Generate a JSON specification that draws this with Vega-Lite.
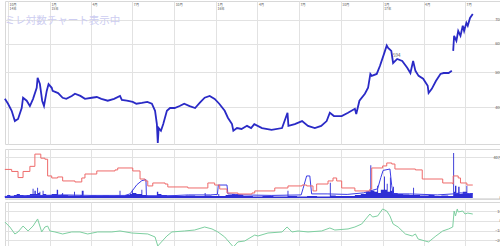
{
  "$schema": "https://vega.github.io/schema/vega-lite/v6.json",
  "padding": 0,
  "background": "white",
  "spacing": 0,
  "config": {
    "font": "Noto Sans CJK JP",
    "view": {"stroke": "#d8d8d8"},
    "axis": {"gridColor": "#e2e2e2", "gridWidth": 1, "domain": false, "ticks": false, "labelFontSize": 3.8, "labelColor": "#555555", "title": null}
  },
  "datasets": {
    "price": [
      {"date":"2014-09-24","price":422},{"date":"2014-10-01","price":409},{"date":"2014-10-09","price":391},{"date":"2014-10-16","price":366},
      {"date":"2014-10-23","price":371},{"date":"2014-10-31","price":398},{"date":"2014-11-03","price":425},{"date":"2014-11-11","price":417},
      {"date":"2014-11-18","price":403},{"date":"2014-11-25","price":422},{"date":"2014-12-03","price":453},{"date":"2014-12-05","price":483},
      {"date":"2014-12-10","price":464},{"date":"2014-12-15","price":417},{"date":"2014-12-19","price":403},{"date":"2014-12-25","price":444},
      {"date":"2014-12-29","price":464},{"date":"2015-01-05","price":453},{"date":"2015-01-07","price":444},{"date":"2015-01-19","price":438},
      {"date":"2015-01-29","price":425},{"date":"2015-02-06","price":422},{"date":"2015-02-18","price":430},{"date":"2015-02-25","price":436},
      {"date":"2015-03-09","price":430},{"date":"2015-03-19","price":422},{"date":"2015-04-03","price":425},{"date":"2015-04-14","price":427},
      {"date":"2015-04-24","price":422},{"date":"2015-05-08","price":417},{"date":"2015-05-22","price":422},{"date":"2015-06-04","price":430},
      {"date":"2015-06-08","price":419},{"date":"2015-06-19","price":417},{"date":"2015-07-02","price":414},{"date":"2015-07-10","price":409},
      {"date":"2015-07-22","price":411},{"date":"2015-08-03","price":414},{"date":"2015-08-13","price":409},{"date":"2015-08-20","price":391},
      {"date":"2015-08-24","price":359},{"date":"2015-08-26","price":318},{"date":"2015-08-28","price":350},{"date":"2015-09-02","price":344},
      {"date":"2015-09-07","price":359},{"date":"2015-09-15","price":391},{"date":"2015-09-22","price":398},{"date":"2015-10-02","price":398},
      {"date":"2015-10-13","price":403},{"date":"2015-10-23","price":409},{"date":"2015-11-04","price":403},{"date":"2015-11-16","price":398},
      {"date":"2015-11-26","price":411},{"date":"2015-12-07","price":425},{"date":"2015-12-18","price":430},{"date":"2015-12-29","price":422},
      {"date":"2016-01-08","price":409},{"date":"2016-01-20","price":391},{"date":"2016-01-27","price":374},{"date":"2016-02-05","price":359},
      {"date":"2016-02-08","price":344},{"date":"2016-02-16","price":350},{"date":"2016-02-26","price":348},{"date":"2016-03-09","price":355},
      {"date":"2016-03-18","price":350},{"date":"2016-03-25","price":359},{"date":"2016-04-11","price":350},{"date":"2016-05-02","price":346},
      {"date":"2016-05-25","price":350},{"date":"2016-06-06","price":386},{"date":"2016-06-08","price":355},{"date":"2016-06-22","price":359},
      {"date":"2016-07-08","price":366},{"date":"2016-07-21","price":355},{"date":"2016-08-05","price":350},{"date":"2016-08-19","price":355},
      {"date":"2016-08-31","price":366},{"date":"2016-09-07","price":386},{"date":"2016-09-16","price":378},{"date":"2016-10-03","price":378},
      {"date":"2016-10-17","price":386},{"date":"2016-11-01","price":396},{"date":"2016-11-04","price":383},{"date":"2016-11-11","price":417},
      {"date":"2016-11-23","price":436},{"date":"2016-11-30","price":453},{"date":"2016-12-05","price":495},{"date":"2016-12-08","price":489},
      {"date":"2016-12-19","price":495},{"date":"2016-12-26","price":521},{"date":"2017-01-04","price":563},{"date":"2017-01-10","price":594},
      {"date":"2017-01-13","price":585},{"date":"2017-01-20","price":574},{"date":"2017-01-24","price":531},{"date":"2017-02-02","price":545},
      {"date":"2017-02-13","price":538},{"date":"2017-02-24","price":515},{"date":"2017-03-03","price":498},{"date":"2017-03-09","price":538},
      {"date":"2017-03-14","price":505},{"date":"2017-03-21","price":489},{"date":"2017-03-31","price":480},{"date":"2017-04-10","price":459},
      {"date":"2017-04-12","price":438},{"date":"2017-04-19","price":450},{"date":"2017-04-28","price":473},{"date":"2017-05-08","price":495},
      {"date":"2017-05-15","price":498},{"date":"2017-05-26","price":498},{"date":"2017-06-02","price":505},{"date":"2017-06-03","price":null},
      {"date":"2017-06-05","price":574},{"date":"2017-06-07","price":632},{"date":"2017-06-12","price":612},{"date":"2017-06-16","price":652},
      {"date":"2017-06-21","price":632},{"date":"2017-06-26","price":674},{"date":"2017-06-29","price":652},{"date":"2017-07-04","price":687},
      {"date":"2017-07-07","price":674},{"date":"2017-07-12","price":709},{"date":"2017-07-18","price":727}
    ],
    "watermark": [{"date":"2014-09-24","price":697,"label":"ミレ対数チャート表示中"}],
    "peak": [{"date":"2017-01-24","price":554,"label":"594"}],
    "volume": [
      {"date":"2014-09-24","vol":2},{"date":"2014-09-29","vol":3},{"date":"2014-10-06","vol":2},{"date":"2014-10-14","vol":3},
      {"date":"2014-10-20","vol":4},{"date":"2014-10-27","vol":3},{"date":"2014-11-04","vol":2.5},{"date":"2014-11-11","vol":3},
      {"date":"2014-11-18","vol":4},{"date":"2014-11-24","vol":9},{"date":"2014-11-26","vol":4},{"date":"2014-11-28","vol":7},
      {"date":"2014-12-01","vol":4},{"date":"2014-12-04","vol":10},{"date":"2014-12-06","vol":5},{"date":"2014-12-09","vol":6},
      {"date":"2014-12-11","vol":3},{"date":"2014-12-16","vol":7},{"date":"2014-12-18","vol":4},{"date":"2014-12-24","vol":3},
      {"date":"2015-01-05","vol":4},{"date":"2015-01-16","vol":8},{"date":"2015-01-19","vol":3},{"date":"2015-01-26","vol":3.5},
      {"date":"2015-01-28","vol":5},{"date":"2015-01-30","vol":3},{"date":"2015-02-10","vol":2.5},{"date":"2015-02-23","vol":6},
      {"date":"2015-02-25","vol":2.5},{"date":"2015-03-09","vol":3},{"date":"2015-03-12","vol":7},{"date":"2015-03-16","vol":2},
      {"date":"2015-03-30","vol":2.5},{"date":"2015-04-13","vol":2},{"date":"2015-04-27","vol":2.5},{"date":"2015-05-11","vol":2},
      {"date":"2015-05-25","vol":2.5},{"date":"2015-06-03","vol":7},{"date":"2015-06-05","vol":2},{"date":"2015-06-15","vol":3},
      {"date":"2015-06-26","vol":4},{"date":"2015-06-30","vol":8},{"date":"2015-07-02","vol":5},{"date":"2015-07-10","vol":4},
      {"date":"2015-07-21","vol":8},{"date":"2015-07-23","vol":3},{"date":"2015-08-03","vol":2.5},{"date":"2015-08-24","vol":6},
      {"date":"2015-08-27","vol":4},{"date":"2015-09-03","vol":3},{"date":"2015-09-15","vol":2.5},{"date":"2015-10-05","vol":2},
      {"date":"2015-10-26","vol":2.5},{"date":"2015-11-16","vol":2},{"date":"2015-12-07","vol":5},{"date":"2015-12-09","vol":2.5},
      {"date":"2015-12-22","vol":2},{"date":"2016-01-06","vol":4},{"date":"2016-01-08","vol":2},{"date":"2016-01-22","vol":3},
      {"date":"2016-02-05","vol":4},{"date":"2016-02-12","vol":3},{"date":"2016-03-01","vol":2},{"date":"2016-03-22","vol":1.5},
      {"date":"2016-04-12","vol":2},{"date":"2016-05-06","vol":1.5},{"date":"2016-06-06","vol":7},{"date":"2016-06-08","vol":2},
      {"date":"2016-06-27","vol":1.5},{"date":"2016-07-19","vol":2},{"date":"2016-08-10","vol":1.5},{"date":"2016-09-07","vol":15},
      {"date":"2016-09-09","vol":2.5},{"date":"2016-09-20","vol":2},{"date":"2016-10-12","vol":2},{"date":"2016-11-01","vol":3},
      {"date":"2016-11-14","vol":4},{"date":"2016-11-25","vol":6},{"date":"2016-12-05","vol":32},{"date":"2016-12-07","vol":7},
      {"date":"2016-12-14","vol":6},{"date":"2016-12-20","vol":12},{"date":"2016-12-22","vol":5},{"date":"2016-12-28","vol":8},
      {"date":"2017-01-04","vol":21},{"date":"2017-01-06","vol":8},{"date":"2017-01-10","vol":14},{"date":"2017-01-12","vol":6},
      {"date":"2017-01-17","vol":20},{"date":"2017-01-19","vol":7},{"date":"2017-01-24","vol":11},{"date":"2017-01-26","vol":5},
      {"date":"2017-02-03","vol":4},{"date":"2017-02-15","vol":3.5},{"date":"2017-03-01","vol":3},{"date":"2017-03-09","vol":10},
      {"date":"2017-03-11","vol":3},{"date":"2017-03-24","vol":2.5},{"date":"2017-04-12","vol":3},{"date":"2017-04-25","vol":2},
      {"date":"2017-05-10","vol":2.5},{"date":"2017-05-25","vol":2},{"date":"2017-06-05","vol":44},{"date":"2017-06-07","vol":6},
      {"date":"2017-06-09","vol":12},{"date":"2017-06-12","vol":5},{"date":"2017-06-16","vol":11},{"date":"2017-06-19","vol":4},
      {"date":"2017-06-26","vol":6},{"date":"2017-07-04","vol":12},{"date":"2017-07-06","vol":4},{"date":"2017-07-12","vol":5},
      {"date":"2017-07-18","vol":3}
    ],
    "sellBalance": [
      {"date":"2014-09-24","bal":1.5},{"date":"2014-11-01","bal":2},{"date":"2014-12-15","bal":2.5},{"date":"2015-02-01","bal":3},
      {"date":"2015-04-01","bal":2.5},{"date":"2015-06-15","bal":2.5},{"date":"2015-06-26","bal":4},{"date":"2015-07-11","bal":13},
      {"date":"2015-07-22","bal":17},{"date":"2015-07-31","bal":18},{"date":"2015-08-01","bal":2},{"date":"2015-09-15","bal":2},
      {"date":"2015-11-01","bal":3},{"date":"2015-12-20","bal":3},{"date":"2016-01-04","bal":3.5},{"date":"2016-01-06","bal":12.7},
      {"date":"2016-01-25","bal":12.7},{"date":"2016-01-27","bal":4},{"date":"2016-03-01","bal":3},{"date":"2016-05-01","bal":2.5},
      {"date":"2016-07-06","bal":3},{"date":"2016-07-10","bal":9},{"date":"2016-07-18","bal":21.6},{"date":"2016-07-25","bal":21.6},
      {"date":"2016-07-29","bal":4},{"date":"2016-09-01","bal":4},{"date":"2016-10-15","bal":3.5},{"date":"2016-11-20","bal":5},
      {"date":"2016-12-21","bal":9},{"date":"2016-12-28","bal":20},{"date":"2017-01-02","bal":27},{"date":"2017-01-17","bal":28.4},
      {"date":"2017-01-21","bal":12},{"date":"2017-01-24","bal":4},{"date":"2017-03-01","bal":4},{"date":"2017-05-01","bal":3},
      {"date":"2017-06-05","bal":4},{"date":"2017-06-20","bal":5},{"date":"2017-07-18","bal":4}
    ],
    "buyBalance": [
      {"date":"2014-09-24","bal":28},{"date":"2014-10-09","bal":26},{"date":"2014-10-23","bal":20},{"date":"2014-11-03","bal":26},
      {"date":"2014-11-18","bal":31},{"date":"2014-11-29","bal":43},{"date":"2014-12-12","bal":39},{"date":"2014-12-21","bal":38},
      {"date":"2014-12-27","bal":21.6},{"date":"2015-01-05","bal":19.6},{"date":"2015-01-18","bal":20.6},{"date":"2015-01-29","bal":16.7},
      {"date":"2015-02-25","bal":15.7},{"date":"2015-03-12","bal":19.6},{"date":"2015-03-19","bal":23.5},{"date":"2015-04-14","bal":26.5},
      {"date":"2015-05-24","bal":27.5},{"date":"2015-05-30","bal":29.4},{"date":"2015-07-02","bal":26.5},{"date":"2015-07-18","bal":18.6},
      {"date":"2015-07-29","bal":16.7},{"date":"2015-08-04","bal":11.8},{"date":"2015-08-15","bal":14.7},{"date":"2015-09-11","bal":13.7},
      {"date":"2015-09-17","bal":10.8},{"date":"2015-10-31","bal":9.8},{"date":"2015-12-14","bal":14.7},{"date":"2015-12-29","bal":12.7},
      {"date":"2016-01-09","bal":8.8},{"date":"2016-01-25","bal":4.9},{"date":"2016-02-18","bal":3.9},{"date":"2016-03-20","bal":4.9},
      {"date":"2016-03-26","bal":6.9},{"date":"2016-05-09","bal":9.8},{"date":"2016-06-07","bal":11.8},{"date":"2016-07-08","bal":12.7},
      {"date":"2016-07-18","bal":11.8},{"date":"2016-08-01","bal":6.9},{"date":"2016-08-09","bal":13.7},{"date":"2016-09-03","bal":16.7},
      {"date":"2016-09-14","bal":19.6},{"date":"2016-09-22","bal":16.7},{"date":"2016-10-03","bal":9.8},{"date":"2016-11-01","bal":6.9},
      {"date":"2016-12-04","bal":8.8},{"date":"2016-12-08","bal":29.4},{"date":"2017-01-01","bal":31.4},{"date":"2017-01-10","bal":34.3},
      {"date":"2017-01-21","bal":33.3},{"date":"2017-01-28","bal":28.4},{"date":"2017-03-14","bal":27.5},{"date":"2017-03-29","bal":18.6},
      {"date":"2017-05-13","bal":14.7},{"date":"2017-06-04","bal":13.7},{"date":"2017-06-05","bal":21.6},{"date":"2017-06-16","bal":19.6},
      {"date":"2017-06-21","bal":14.7},{"date":"2017-07-05","bal":12.7},{"date":"2017-07-18","bal":12.7}
    ],
    "oscillator": [
      {"date":"2014-09-24","v":-1.0},{"date":"2014-10-05","v":-6.2},{"date":"2014-10-16","v":-13.4},{"date":"2014-10-23","v":-11.3},
      {"date":"2014-11-03","v":-5.2},{"date":"2014-11-14","v":-10.3},{"date":"2014-11-25","v":-5.2},{"date":"2014-12-05","v":2.1},
      {"date":"2014-12-14","v":-11.3},{"date":"2014-12-21","v":-6.2},{"date":"2014-12-27","v":-5.2},{"date":"2015-01-01","v":-10.3},
      {"date":"2015-01-12","v":-11.3},{"date":"2015-01-29","v":-13.4},{"date":"2015-02-18","v":-11.3},{"date":"2015-03-08","v":-11.3},
      {"date":"2015-03-25","v":-13.4},{"date":"2015-04-16","v":-11.3},{"date":"2015-05-17","v":-11.3},{"date":"2015-06-04","v":-10.3},
      {"date":"2015-06-30","v":-12.4},{"date":"2015-08-04","v":-13.4},{"date":"2015-08-20","v":-16.5},{"date":"2015-08-26","v":-25.8},
      {"date":"2015-09-03","v":-21.6},{"date":"2015-09-15","v":-15.5},{"date":"2015-09-26","v":-11.3},{"date":"2015-10-24","v":-10.3},
      {"date":"2015-11-15","v":-9.3},{"date":"2015-12-07","v":-6.2},{"date":"2015-12-23","v":-8.2},{"date":"2016-01-05","v":-11.3},
      {"date":"2016-01-20","v":-16.5},{"date":"2016-02-08","v":-26.8},{"date":"2016-02-18","v":-21.6},{"date":"2016-03-04","v":-20.6},
      {"date":"2016-03-26","v":-14.5},{"date":"2016-04-02","v":-15.5},{"date":"2016-04-24","v":-12.4},{"date":"2016-05-25","v":-11.3},
      {"date":"2016-06-05","v":-6.2},{"date":"2016-06-16","v":-11.3},{"date":"2016-06-29","v":-10.3},{"date":"2016-07-21","v":-11.3},
      {"date":"2016-08-20","v":-10.3},{"date":"2016-09-07","v":-7.2},{"date":"2016-09-18","v":-9.3},{"date":"2016-10-17","v":-8.2},
      {"date":"2016-11-01","v":-6.2},{"date":"2016-11-16","v":-3.1},{"date":"2016-12-04","v":7.2},{"date":"2016-12-10","v":4.1},
      {"date":"2016-12-21","v":5.2},{"date":"2017-01-01","v":12.4},{"date":"2017-01-10","v":10.3},{"date":"2017-01-17","v":5.2},
      {"date":"2017-01-24","v":-3.1},{"date":"2017-02-04","v":-6.2},{"date":"2017-02-20","v":-13.4},{"date":"2017-03-07","v":-15.5},
      {"date":"2017-03-14","v":-13.4},{"date":"2017-03-20","v":-18.6},{"date":"2017-04-04","v":-20.6},{"date":"2017-04-12","v":-21.6},
      {"date":"2017-04-28","v":-15.5},{"date":"2017-05-13","v":-10.3},{"date":"2017-05-26","v":-8.2},{"date":"2017-06-04","v":-6.2},
      {"date":"2017-06-07","v":10.3},{"date":"2017-06-10","v":5.2},{"date":"2017-06-14","v":12.4},{"date":"2017-06-16","v":9.3},
      {"date":"2017-06-26","v":10.3},{"date":"2017-07-01","v":7.2},{"date":"2017-07-07","v":8.2},{"date":"2017-07-18","v":7.2}
    ],
    "scrollbar": [{"name":"scroll"}]
  },
  "vconcat": [
    {
      "width": 498,
      "height": 143,
      "layer": [
        {
          "data": {"name": "watermark"},
          "mark": {"type": "text", "align": "left", "baseline": "middle", "fontSize": 10.5, "color": "#cdcdf1"},
          "encoding": {
            "x": {"field": "date", "type": "temporal"},
            "y": {"field": "price", "type": "quantitative"},
            "text": {"field": "label"}
          }
        },
        {
          "data": {"name": "price"},
          "mark": {"type": "line", "color": "#2a2ac6", "strokeWidth": 1.8, "invalid": "break-paths-show-domains"},
          "encoding": {
            "x": {
              "field": "date", "type": "temporal",
              "scale": {"domain": [{"year":2014,"month":9,"date":24,"hours":8,"utc":true},{"year":2017,"month":9,"date":22,"hours":10,"utc":true}]},
              "axis": {
                "orient": "top", "grid": true, "labelAlign": "left", "labelBaseline": "top", "labelPadding": -1.5, "labelOffset": 1,
                "labelFlush": false, "labelOverlap": false, "labelLineHeight": 4.2, "labelFontSize": 3.4,
                "values": [
                  {"year":2014,"month":10,"date":1,"utc":true},{"year":2015,"month":1,"date":1,"utc":true},{"year":2015,"month":4,"date":1,"utc":true},
                  {"year":2015,"month":7,"date":1,"utc":true},{"year":2015,"month":10,"date":1,"utc":true},{"year":2016,"month":1,"date":1,"utc":true},
                  {"year":2016,"month":4,"date":1,"utc":true},{"year":2016,"month":7,"date":1,"utc":true},{"year":2016,"month":10,"date":1,"utc":true},
                  {"year":2017,"month":1,"date":1,"utc":true},{"year":2017,"month":4,"date":1,"utc":true},{"year":2017,"month":7,"date":1,"utc":true}
                ],
                "labelExpr": "utcmonth(datum.value)==0 || utcyear(datum.value)==2014 ? [(utcmonth(datum.value)+1)+'月', (utcyear(datum.value)%100)+'年'] : (utcmonth(datum.value)+1)+'月'"
              }
            },
            "y": {
              "field": "price", "type": "quantitative",
              "scale": {"type": "log", "domain": [316, 790], "nice": false},
              "axis": {"orient": "right", "values": [400, 500, 600, 700], "grid": true, "labelAlign": "right", "labelPadding": -2}
            }
          }
        },
        {
          "data": {"name": "peak"},
          "mark": {"type": "text", "align": "left", "baseline": "middle", "fontSize": 4.5, "color": "#555555"},
          "encoding": {
            "x": {"field": "date", "type": "temporal"},
            "y": {"field": "price", "type": "quantitative"},
            "text": {"field": "label"}
          }
        }
      ]
    },
    {
      "width": 498,
      "height": 50,
      "layer": [
        {
          "data": {"name": "volume"},
          "mark": {"type": "area", "interpolate": "step-after", "color": "#2e2ed4", "opacity": 1},
          "encoding": {
            "x": {
              "field": "date", "type": "temporal",
              "scale": {"domain": [{"year":2014,"month":9,"date":24,"hours":8,"utc":true},{"year":2017,"month":9,"date":22,"hours":10,"utc":true}]},
              "axis": {
                "orient": "bottom", "grid": true, "labels": false,
                "values": [
                  {"year":2014,"month":10,"date":1,"utc":true},{"year":2015,"month":1,"date":1,"utc":true},{"year":2015,"month":4,"date":1,"utc":true},
                  {"year":2015,"month":7,"date":1,"utc":true},{"year":2015,"month":10,"date":1,"utc":true},{"year":2016,"month":1,"date":1,"utc":true},
                  {"year":2016,"month":4,"date":1,"utc":true},{"year":2016,"month":7,"date":1,"utc":true},{"year":2016,"month":10,"date":1,"utc":true},
                  {"year":2017,"month":1,"date":1,"utc":true},{"year":2017,"month":4,"date":1,"utc":true},{"year":2017,"month":7,"date":1,"utc":true}
                ]
              }
            },
            "y": {
              "field": "vol", "type": "quantitative",
              "scale": {"domain": [-1, 48], "nice": false, "zero": false},
              "axis": {"orient": "right", "values": [0, 20, 40], "grid": true, "labelAlign": "right", "labelPadding": -2,
                       "labelExpr": "datum.value == 0 ? '0' : datum.value + '万'"}
            },
            "y2": {"datum": 0}
          }
        },
        {
          "data": {"name": "sellBalance"},
          "mark": {"type": "line", "color": "#3c3ce6", "strokeWidth": 1},
          "encoding": {
            "x": {"field": "date", "type": "temporal"},
            "y": {"field": "bal", "type": "quantitative"}
          }
        },
        {
          "data": {"name": "buyBalance"},
          "mark": {"type": "line", "interpolate": "step-after", "color": "#ee6a6a", "strokeWidth": 1},
          "encoding": {
            "x": {"field": "date", "type": "temporal"},
            "y": {"field": "bal", "type": "quantitative"}
          }
        }
      ]
    },
    {
      "width": 498,
      "height": 47,
      "data": {"name": "oscillator"},
      "mark": {"type": "line", "color": "#7dcfa0", "strokeWidth": 1},
      "encoding": {
        "x": {
          "field": "date", "type": "temporal",
          "scale": {"domain": [{"year":2014,"month":9,"date":24,"hours":8,"utc":true},{"year":2017,"month":9,"date":22,"hours":10,"utc":true}]},
          "axis": {
            "orient": "bottom", "grid": true, "labels": false,
            "values": [
              {"year":2014,"month":10,"date":1,"utc":true},{"year":2015,"month":1,"date":1,"utc":true},{"year":2015,"month":4,"date":1,"utc":true},
              {"year":2015,"month":7,"date":1,"utc":true},{"year":2015,"month":10,"date":1,"utc":true},{"year":2016,"month":1,"date":1,"utc":true},
              {"year":2016,"month":4,"date":1,"utc":true},{"year":2016,"month":7,"date":1,"utc":true},{"year":2016,"month":10,"date":1,"utc":true},
              {"year":2017,"month":1,"date":1,"utc":true},{"year":2017,"month":4,"date":1,"utc":true},{"year":2017,"month":7,"date":1,"utc":true}
            ]
          }
        },
        "y": {
          "field": "v", "type": "quantitative",
          "scale": {"domain": [-28.9, 19.6], "nice": false, "zero": false},
          "axis": {"orient": "right", "values": [10, 0, -10, -20], "grid": true, "labelAlign": "right", "labelPadding": -2}
        }
      }
    },
    {
      "width": 498,
      "height": 6,
      "view": {"fill": "#c6d5ea", "stroke": "#9fb3d3"},
      "data": {"name": "scrollbar"},
      "mark": {"type": "rect", "color": "#c6d5ea"},
      "encoding": {}
    }
  ]
}
